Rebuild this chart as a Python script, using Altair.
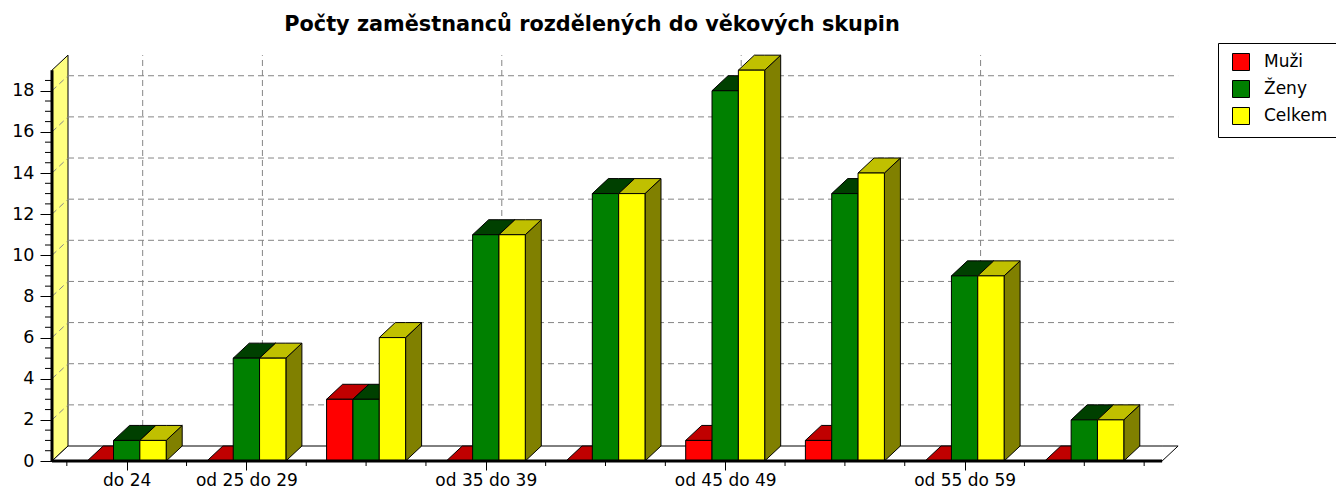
import json
import altair as alt
import pandas as pd

# ---------------- data ----------------
categories = ["do 24", "od 25 do 29", "od 30 do 34", "od 35 do 39", "od 40 do 44",
              "od 45 do 49", "od 50 do 54", "od 55 do 59", "od 60"]
muzi = [0, 0, 3, 0, 0, 1, 1, 0, 0]
zeny = [1, 5, 3, 11, 13, 18, 13, 9, 2]
celkem = [1, 5, 6, 11, 13, 19, 14, 9, 2]
series_names = ["Muži", "Ženy", "Celkem"]
front_colors = ["#ff0000", "#008000", "#ffff00"]
top_colors = ["#c00000", "#004000", "#c0c000"]
side_colors = ["#800000", "#003000", "#808000"]
y_tick_values = [0, 2, 4, 6, 8, 10, 12, 14, 16, 18]
y_minor_values = [0.5, 1, 1.5, 2.5, 3, 3.5, 4.5, 5, 5.5, 6.5, 7, 7.5, 8.5, 9, 9.5,
                  10.5, 11, 11.5, 12.5, 13, 13.5, 14.5, 15, 15.5, 16.5, 17, 17.5, 18.5]
labeled_idx = [0, 1, 3, 5, 7]
wall_top = 19

# ---------------- layout ----------------
W, H = 1128, 406
PX_CAT, PX_UNIT = 119.7, 20.57
X0 = -0.624
X1 = X0 + W / PX_CAT
Y1 = H / PX_UNIT
DX = 16 / PX_CAT
DY = 15 / PX_UNIT
BAR_W = 0.22
FLOOR_END = 8.65

FONT = "DejaVu Sans"

values_by_series = [muzi, zeny, celkem]


def top_face(pid, xl, xr, v, color):
    # parallelogram (xl,v)-(xr,v)-(xr+DX,v+DY)-(xl+DX,v+DY) as a vertical band
    return [
        dict(id=pid, x=xl, y=v, y2=v, color=color),
        dict(id=pid, x=xl + DX, y=v, y2=v + DY, color=color),
        dict(id=pid, x=xr, y=v, y2=v + DY, color=color),
        dict(id=pid, x=xr + DX, y=v + DY, y2=v + DY, color=color),
    ]


def side_face(pid, x, y0, y1, color):
    return [
        dict(id=pid, x=x, y=y0, y2=y1, color=color),
        dict(id=pid, x=x + DX, y=y0 + DY, y2=y1 + DY, color=color),
    ]


front_rows, top_rows, side_rows = [], [], []
for i, cat in enumerate(categories):
    for k, name in enumerate(series_names):
        v = values_by_series[k][i]
        xl = i - 1.5 * BAR_W + k * BAR_W
        xr = xl + BAR_W
        bid = f"{i}-{k}"
        front_rows.append(dict(x=xl, x2=xr, y=0, y2=v, series=name, id=bid))
        top_rows += top_face(bid, xl, xr, v, top_colors[k])
        side_rows += side_face(bid, xr, 0, v, side_colors[k])

fronts = pd.DataFrame(front_rows)
tops = pd.DataFrame(top_rows)
sides = pd.DataFrame(side_rows)
wall = pd.DataFrame(side_face("wall", X0, 0, wall_top, "#ffff80"))
floor = pd.DataFrame(top_face("floor", X0, FLOOR_END, 0, "#ffffff"))

hgrid = pd.DataFrame([dict(x=X0 + DX, x2=FLOOR_END + DX, y=v + DY, y2=v + DY) for v in y_tick_values[1:]])
wgrid = pd.DataFrame([dict(x=X0, x2=X0 + DX, y=v, y2=v + DY) for v in y_tick_values[1:]])
vgrid = pd.DataFrame([dict(x=i + DX, x2=i + DX, y=DY, y2=wall_top + DY) for i in labeled_idx])
edges = pd.DataFrame([
    dict(x=X0, x2=X0, y=0, y2=wall_top),
    dict(x=X0, x2=FLOOR_END, y=0, y2=0),
])
x_minor = pd.DataFrame([dict(x=-0.5 + 0.5 * j) for j in range(19) if (-0.5 + 0.5 * j) not in labeled_idx])
y_minor = pd.DataFrame([dict(y=v) for v in y_minor_values])

# ---------------- scales / axes ----------------
xs = alt.Scale(domain=[X0, X1], nice=False, zero=False)
ys = alt.Scale(domain=[0, Y1], nice=False, zero=False)

label_expr = json.dumps(categories, ensure_ascii=False) + "[datum.value]"
x_axis = alt.Axis(values=labeled_idx, labelExpr=label_expr, tickSize=9, tickColor="black",
                  domain=False, grid=False, title=None, labelFont=FONT, labelFontSize=17,
                  labelColor="black", labelBaseline="alphabetic", labelPadding=15,
                  labelFlush=False, labelOverlap=False)
y_axis = alt.Axis(values=y_tick_values, tickSize=12, tickColor="black", domain=False, grid=False,
                  title=None, labelFont=FONT, labelFontSize=17.5, labelColor="black",
                  labelPadding=6, format="d")


def X(f="x"):
    return alt.X(f"{f}:Q", scale=xs, axis=x_axis)


def Y(f="y"):
    return alt.Y(f"{f}:Q", scale=ys, axis=y_axis)


def face_layer(df):
    return alt.Chart(df).mark_area(orient="vertical", interpolate="linear",
                                   stroke="black", strokeWidth=1, opacity=1).encode(
        x=X(), y=Y(), y2=alt.Y2("y2"), detail="id:N",
        fill=alt.Fill("color:N", scale=None))


wall_layer = face_layer(wall)
floor_layer = face_layer(floor)

grid_style = dict(color="#858585", strokeWidth=1, strokeDash=[6, 4])
hgrid_layer = alt.Chart(hgrid).mark_rule(**grid_style).encode(x=X(), x2="x2:Q", y=Y(), y2="y2:Q")
wgrid_layer = alt.Chart(wgrid).mark_rule(**grid_style).encode(x=X(), x2="x2:Q", y=Y(), y2="y2:Q")
vgrid_layer = alt.Chart(vgrid).mark_rule(**grid_style).encode(x=X(), x2="x2:Q", y=Y(), y2="y2:Q")

side_layer = face_layer(sides)
top_layer = face_layer(tops)

front_layer = alt.Chart(fronts).mark_rect(stroke="black", strokeWidth=1).encode(
    x=X(), x2="x2:Q", y=Y(), y2="y2:Q",
    color=alt.Color("series:N", scale=alt.Scale(domain=series_names, range=front_colors),
                    legend=alt.Legend(title=None, orient="none", legendX=1166, legendY=-12,
                                      padding=10, strokeColor="black", fillColor="white",
                                      symbolType="square", symbolSize=289,
                                      symbolStrokeColor="black", symbolStrokeWidth=1,
                                      labelFont=FONT, labelFontSize=17, labelColor="black",
                                      rowPadding=5, symbolOffset=4, labelOffset=14,
                                      cornerRadius=0)),
)

edge_layer = alt.Chart(edges).mark_rule(color="black", strokeWidth=3).encode(
    x=X(), x2="x2:Q", y=Y(), y2="y2:Q")
xminor_layer = alt.Chart(x_minor).mark_rule(color="black", strokeWidth=1).encode(
    x=X(), y=alt.value(H + 1), y2=alt.value(H + 5))
yminor_layer = alt.Chart(y_minor).mark_rule(color="black", strokeWidth=1).encode(
    y=Y(), x=alt.value(-7), x2=alt.value(0))

chart = alt.layer(
    wall_layer, floor_layer, hgrid_layer, wgrid_layer, vgrid_layer,
    side_layer, top_layer, front_layer, edge_layer, xminor_layer, yminor_layer,
).properties(
    width=W, height=H,
    title=alt.TitleParams("Počty zaměstnanců rozdělených do věkových skupin", font=FONT,
                          fontSize=20.8, fontWeight="bold", color="black", anchor="middle",
                          frame="group", dx=-24, offset=7),
    padding={"left": 44, "top": 47, "right": 156, "bottom": 28},
    autosize=alt.AutoSizeParams(type="none"),
).configure_view(stroke=None)

chart.save("out.html", embed_options={"renderer": "svg", "actions": False})
